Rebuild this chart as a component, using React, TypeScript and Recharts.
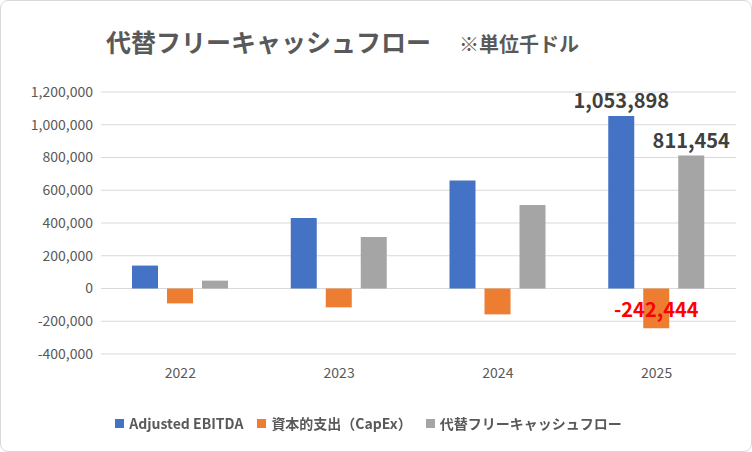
import { BarChart, Bar, XAxis, YAxis, CartesianGrid, Legend, LabelList } from 'recharts'

const years = ['2022', '2023', '2024', '2025']
const ebitda = [140000, 430000, 660000, 1053898]
const capex = [-91000, -115000, -158000, -242444]
const fcf = [48000, 315000, 510000, 811454]
const yTicks = [-400000, -200000, 0, 200000, 400000, 600000, 800000, 1000000, 1200000]
const seriesNames = ['Adjusted EBITDA', '資本的支出（CapEx）', '代替フリーキャッシュフロー']
const seriesColors = ['#4472c4', '#ed7d31', '#a5a5a5']

const data = years.map((year, i) => ({
  year,
  ebitda: ebitda[i],
  capex: capex[i],
  fcf: fcf[i],
}))

const font = '"Noto Sans CJK JP", "Noto Sans", sans-serif'

const lastLabel = (color: string, below: boolean) => (props: any) => {
  const { x, y, width, height, index, value } = props
  if (index !== years.length - 1) return null
  const ty = below ? y + height + 28 : y - 8
  return (
    <text x={x + width / 2} y={ty} textAnchor="middle" fill={color} fontSize={20} fontWeight={700} fontFamily={font}>
      {Number(value).toLocaleString('en-US')}
    </text>
  )
}

const renderLegend = () => (
  <div style={{ display: 'flex', justifyContent: 'center', gap: 14, fontSize: 14, fontWeight: 700, color: '#595959', fontFamily: font }}>
    {seriesNames.map((n, i) => (
      <span key={n} style={{ display: 'flex', alignItems: 'center', gap: 5 }}>
        <span style={{ width: 9, height: 9, background: seriesColors[i], display: 'inline-block' }} />
        {n}
      </span>
    ))}
  </div>
)

export default function App() {
  return (
    <div style={{ position: 'fixed', left: 0, top: 0, width: 750, height: 450, border: '1px solid #d9d9d9', borderRadius: 8, background: '#fff', fontFamily: font }}>
      <div style={{ position: 'absolute', left: 105, top: 22, fontSize: 25, fontWeight: 700, color: '#595959' }}>
        代替フリーキャッシュフロー<span style={{ fontSize: 20, marginLeft: 28 }}>※単位千ドル</span>
      </div>
      <BarChart width={750} height={450} data={data} margin={{ top: 91, right: 15, bottom: 47, left: 0 }} barGap={9} barSize={26}>
        <CartesianGrid vertical={false} stroke="#d9d9d9" />
        <XAxis dataKey="year" axisLine={false} tickLine={false} tick={{ fill: '#595959', fontSize: 14, fontFamily: font }} dy={6} />
        <YAxis
          domain={[-400000, 1200000]}
          ticks={yTicks}
          width={100}
          axisLine={false}
          tickLine={false}
          tick={{ fill: '#595959', fontSize: 14, fontFamily: font }}
          tickFormatter={(v: number) => v.toLocaleString('en-US')}
        />
        <Legend verticalAlign="bottom" content={renderLegend} wrapperStyle={{ bottom: 18 }} />
        <Bar dataKey="ebitda" name={seriesNames[0]} fill={seriesColors[0]} isAnimationActive={false}>
          <LabelList dataKey="ebitda" content={lastLabel('#404040', false)} />
        </Bar>
        <Bar dataKey="capex" name={seriesNames[1]} fill={seriesColors[1]} isAnimationActive={false}>
          <LabelList dataKey="capex" content={lastLabel('#ff0000', true)} />
        </Bar>
        <Bar dataKey="fcf" name={seriesNames[2]} fill={seriesColors[2]} isAnimationActive={false}>
          <LabelList dataKey="fcf" content={lastLabel('#404040', false)} />
        </Bar>
      </BarChart>
    </div>
  )
}
